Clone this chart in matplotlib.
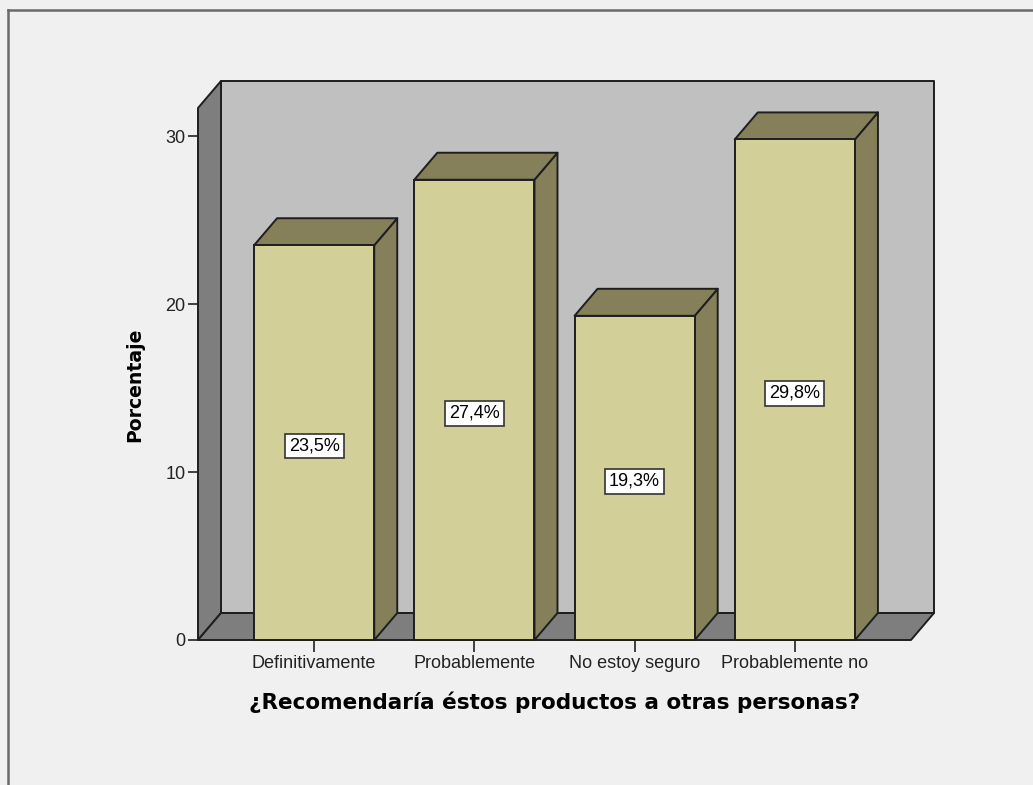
import matplotlib
matplotlib.use("Agg")
import matplotlib.pyplot as plt
from matplotlib.patches import Polygon, Rectangle
from matplotlib.lines import Line2D

categories = ["Definitivamente", "Probablemente", "No estoy seguro", "Probablemente no"]
percentages = [23.5, 27.4, 19.3, 29.8]
value_labels = ["23,5%", "27,4%", "19,3%", "29,8%"]
y_ticks = [0, 10, 20, 30]

BG = "#F0F0F0"
WALL = "#C0C0C0"
SIDE = "#7E7E7E"
FRONT = "#D3CF98"
SHADE = "#858059"
EDGE = "#1E1E1E"

W, H = 1033, 785
fig = plt.figure(figsize=(W / 100, H / 100), dpi=100, facecolor=BG)

# front plane of the box in pixel positions
left_px, right_px, bottom_px, top_px = 198, 911, 640, 108
ax = fig.add_axes([left_px / W, 1 - bottom_px / H,
                   (right_px - left_px) / W, (bottom_px - top_px) / H])
ax.set_facecolor("none")

xmin, xmax = -0.725, 3.725
ymax = 31.67
ax.set_xlim(xmin, xmax)
ax.set_ylim(0, ymax)

# depth offset of the 3d effect, in data units
DX = 23 / ((right_px - left_px) / (xmax - xmin))
DY = 27 / ((bottom_px - top_px) / ymax)

lw = 1.4
def face(pts, color, z=1):
    ax.add_patch(Polygon(pts, closed=True, facecolor=color, edgecolor=EDGE,
                         linewidth=lw, joinstyle="round", clip_on=False, zorder=z))

# back wall, left wall and floor
face([(xmin + DX, DY), (xmax + DX, DY), (xmax + DX, ymax + DY), (xmin + DX, ymax + DY)], WALL, 1)
face([(xmin, 0), (xmin + DX, DY), (xmin + DX, ymax + DY), (xmin, ymax)], SIDE, 2)
face([(xmin, 0), (xmax, 0), (xmax + DX, DY), (xmin + DX, DY)], SIDE, 2)

bw = 0.75
for i, (v, lab) in enumerate(zip(percentages, value_labels)):
    x0, x1 = i - bw / 2, i + bw / 2
    face([(x1, 0), (x1 + DX, DY), (x1 + DX, v + DY), (x1, v)], SHADE, 3)
    face([(x0, v), (x1, v), (x1 + DX, v + DY), (x0 + DX, v + DY)], SHADE, 3)
    ax.add_patch(Rectangle((x0, 0), bw, v, facecolor=FRONT, edgecolor=EDGE,
                           linewidth=lw, clip_on=False, zorder=4))
    ax.text(i, v / 2 - 0.2, lab, ha="center", va="center", fontsize=13,
            family="Liberation Sans", zorder=5,
            bbox=dict(boxstyle="square,pad=0.22", facecolor="white",
                      edgecolor="#333333", linewidth=1.2))

for s in ax.spines.values():
    s.set_visible(False)

ax.set_yticks(y_ticks)
ax.set_yticklabels([str(t) for t in y_ticks], family="Liberation Sans", fontsize=13)
ax.set_xticks(range(len(categories)))
ax.set_xticklabels(categories, family="Liberation Sans", fontsize=13)
ax.tick_params(axis="y", direction="out", length=7.5, width=1.2, pad=1.5, colors="#222222")
ax.tick_params(axis="x", direction="out", length=8.5, width=1.2, pad=2.5, colors="#222222")

ax.set_ylabel("Porcentaje", fontsize=13.6, fontweight="bold", family="DejaVu Sans")
ax.yaxis.set_label_coords(-0.075, 0.48)
ax.set_xlabel("¿Recomendaría éstos productos a otras personas?", fontsize=15.5,
              fontweight="bold", family="DejaVu Sans", labelpad=14)

# outer chart frame (top and left edges)
fig.add_artist(Line2D([8 / W, 8 / W], [0, 1 - 10 / H], transform=fig.transFigure,
                      color="#6A6A6A", linewidth=1.8))
fig.add_artist(Line2D([8 / W, 1], [1 - 10 / H, 1 - 10 / H], transform=fig.transFigure,
                      color="#6A6A6A", linewidth=1.8))

fig.savefig("out.png", dpi=100, facecolor=BG)
